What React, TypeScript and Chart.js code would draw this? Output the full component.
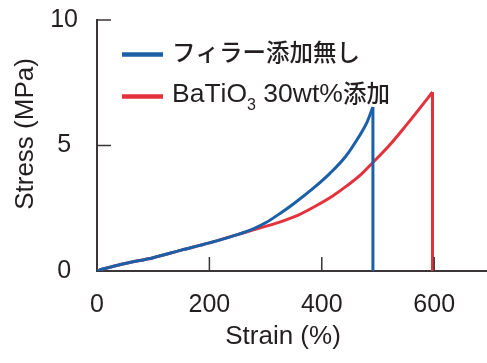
import { useEffect, useRef } from 'react';
import { Chart, registerables } from 'chart.js';

Chart.register(...registerables);

// Stress–strain data
const blueStrain = [0, 10, 25, 50, 100, 150, 200, 250, 280, 300, 325, 350, 385, 415, 442, 466, 480, 491];
const blueStress = [0, 0.08, 0.16, 0.3, 0.53, 0.83, 1.12, 1.45, 1.7, 1.92, 2.28, 2.68, 3.3, 3.9, 4.55, 5.35, 5.9, 6.53];
const redStrain = [0, 10, 25, 50, 100, 150, 200, 250, 280, 325, 360, 390, 420, 445, 470, 490, 520, 550, 575, 597];
const redStress = [0, 0.08, 0.16, 0.3, 0.53, 0.83, 1.12, 1.45, 1.65, 1.95, 2.25, 2.6, 3.0, 3.4, 3.85, 4.3, 5.0, 5.8, 6.5, 7.13];

const seriesLabels = ['フィラー添加無し', 'BaTiO₃ 30wt%添加'];
const seriesColors = ['#1b5fa9', '#e4323c'];

const xTickValues = [0, 200, 400, 600];
const yTickValues = [0, 5, 10];
const xInnerTicks = [200, 400, 600];
const yInnerTicks = [5, 10];
const xTitle = 'Strain (%)';
const yTitle = 'Stress (MPa)';

const LATIN = '"Liberation Sans", Arial, sans-serif';
const CJK = '"Noto Sans CJK JP", sans-serif';
const INK = '#231f20';
const AXIS = '#3a3536';

function toPoints(xs: number[], ys: number[]) {
  return xs.map((x, i) => ({ x, y: ys[i] }));
}
function dropLine(xs: number[], ys: number[]) {
  const x = xs[xs.length - 1];
  return [{ x, y: ys[ys.length - 1] }, { x, y: 0 }];
}

function drawMixed(ctx: CanvasRenderingContext2D, text: string, x: number, baseline: number) {
  let cx = x;
  for (const ch of Array.from(text)) {
    let c = ch;
    let dy = 0;
    if (ch === '₃') {
      c = '3';
      dy = 8;
      ctx.font = `16px ${LATIN}`;
    } else if ((ch.codePointAt(0) || 0) > 0x2e80) {
      ctx.font = `500 23.5px ${CJK}`;
    } else {
      ctx.font = `26.5px ${LATIN}`;
    }
    ctx.fillText(c, cx, baseline + dy);
    cx += ctx.measureText(c).width;
  }
}

const decorPlugin = {
  id: 'decor',
  afterDraw(chart: any) {
    const ctx: CanvasRenderingContext2D = chart.ctx;
    const xs = chart.scales.x;
    const ys = chart.scales.y;
    const area = chart.chartArea;
    ctx.save();
    // inner tick marks
    ctx.strokeStyle = AXIS;
    ctx.lineWidth = 1.5;
    ctx.beginPath();
    for (const v of xInnerTicks) {
      const px = xs.getPixelForValue(v);
      ctx.moveTo(px, area.bottom);
      ctx.lineTo(px, area.bottom - 14);
    }
    for (const v of yInnerTicks) {
      const py = ys.getPixelForValue(v);
      ctx.moveTo(area.left, py);
      ctx.lineTo(area.left + 14, py);
    }
    ctx.stroke();

    // axis titles
    ctx.fillStyle = INK;
    ctx.font = `26px ${LATIN}`;
    ctx.textAlign = 'center';
    ctx.textBaseline = 'middle';
    ctx.fillText(xTitle, 283, 337);
    ctx.save();
    ctx.translate(26, 134);
    ctx.rotate(-Math.PI / 2);
    ctx.fillText(yTitle, 0, 0);
    ctx.restore();

    // legend
    const rows = [
      { lineY: 54.5, baseline: 61 },
      { lineY: 96.5, baseline: 101.5 },
    ];
    ctx.textAlign = 'left';
    ctx.textBaseline = 'alphabetic';
    seriesLabels.forEach((label, i) => {
      const r = rows[i];
      ctx.strokeStyle = seriesColors[i];
      ctx.lineWidth = 4.5;
      ctx.beginPath();
      ctx.moveTo(122, r.lineY);
      ctx.lineTo(163, r.lineY);
      ctx.stroke();
      ctx.fillStyle = INK;
      drawMixed(ctx, label, 172, r.baseline);
    });
    ctx.restore();
  },
};

export default function App() {
  const ref = useRef<HTMLCanvasElement | null>(null);
  useEffect(() => {
    document.body.style.margin = '0';
    const canvas = ref.current;
    if (!canvas) return;
    const lineDs = (data: any, color: string, label: string) => ({
      label,
      data,
      borderColor: color,
      backgroundColor: color,
      borderWidth: 3,
      pointRadius: 0,
      showLine: true,
      fill: false,
      cubicInterpolationMode: 'monotone' as const,
    });
    const chart = new Chart(canvas, {
      type: 'scatter',
      data: {
        datasets: [
          lineDs(dropLine(blueStrain, blueStress), seriesColors[0], seriesLabels[0] + ' drop'),
          lineDs(dropLine(redStrain, redStress), seriesColors[1], seriesLabels[1] + ' drop'),
          lineDs(toPoints(blueStrain, blueStress), seriesColors[0], seriesLabels[0]),
          lineDs(toPoints(redStrain, redStress), seriesColors[1], seriesLabels[1]),
        ],
      },
      options: {
        animation: false,
        responsive: false,
        layout: { padding: { top: 20, right: 0, bottom: 0, left: 0 } },
        plugins: {
          legend: { display: false },
          tooltip: { enabled: false },
        },
        scales: {
          x: {
            type: 'linear',
            min: 0,
            max: 694,
            grid: { display: false, drawTicks: false },
            border: { display: true, color: AXIS, width: 2 },
            ticks: { color: INK, font: { family: LATIN, size: 25 }, padding: 19 },
            afterBuildTicks: (s: any) => {
              s.ticks = xTickValues.map((v) => ({ value: v }));
            },
            afterFit: (s: any) => {
              s.height = 92;
              s.paddingLeft = 0;
              s.paddingRight = 0;
            },
          },
          y: {
            type: 'linear',
            min: 0,
            max: 10,
            grid: { display: false, drawTicks: false },
            border: { display: true, color: AXIS, width: 2 },
            ticks: { color: INK, font: { family: LATIN, size: 25 }, padding: 19, crossAlign: 'center' },
            afterBuildTicks: (s: any) => {
              s.ticks = yTickValues.map((v) => ({ value: v }));
            },
            afterFit: (s: any) => {
              s.width = 97;
              s.paddingTop = 0;
              s.paddingBottom = 0;
            },
          },
        },
      },
      plugins: [decorPlugin],
    });
    return () => chart.destroy();
  }, []);
  return (
    <div style={{ width: 487, height: 363 }}>
      <canvas ref={ref} width={487} height={363} style={{ display: 'block' }} />
    </div>
  );
}
